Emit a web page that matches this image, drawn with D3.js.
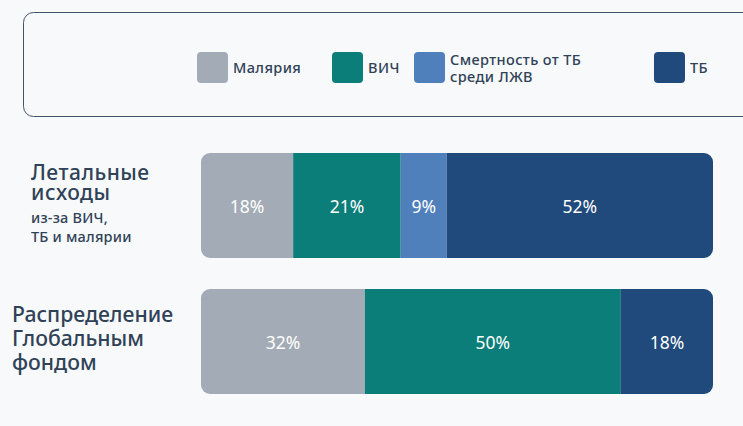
<!DOCTYPE html>
<html><head><meta charset="utf-8">
<script src="https://cdn.jsdelivr.net/npm/d3@7"></script>
<style>
html,body{margin:0;padding:0;background:#f8f9fa;}
svg{display:block;font-family:"Noto Sans",sans-serif;}
</style></head>
<body><svg id="c" width="743" height="426"></svg>
<script>
const categories = ["Малярия", "ВИЧ", "Смертность от ТБ среди ЛЖВ", "ТБ"];
const legendLines = [["Малярия"], ["ВИЧ"], ["Смертность от ТБ", "среди ЛЖВ"], ["ТБ"]];
const colors = ["#a3acb6", "#0b7e79", "#4f80bc", "#1f4a7b"];
const rowKeys = ["deaths", "allocation"];
const rowTitles = [["Летальные", "исходы"], ["Распределение", "Глобальным", "фондом"]];
const rowSubtitles = [["из-за ВИЧ,", "ТБ и малярии"], []];
const deathsValues = [18, 21, 9, 52];
const allocationValues = [32, 50, 0, 18];
const seriesByRow = [deathsValues, allocationValues];

const svg = d3.select("#c");
const W = 743, H = 426;
svg.append("rect").attr("width", W).attr("height", H).attr("fill", "#f8f9fa");

// legend box
svg.append("rect").attr("x", 23.5).attr("y", 12.5).attr("width", 760).attr("height", 104)
  .attr("rx", 10).attr("fill", "#f8f9fa").attr("stroke", "#42546a").attr("stroke-width", 1);

const legendX = [197, 332, 414, 654];
const lg = svg.append("g");
categories.forEach((c, i) => {
  const g = lg.append("g").attr("transform", `translate(${legendX[i]},52)`);
  g.append("rect").attr("width", 31).attr("height", 31).attr("rx", 4).attr("fill", colors[i]);
  const lines = legendLines[i];
  const t = g.append("text").attr("fill", "#2f4257").attr("font-size", 14.5)
    .attr("font-weight", 500).attr("letter-spacing", 0.4);
  if (lines.length === 1) {
    t.append("tspan").attr("x", 36).attr("y", 21).text(lines[0]);
  } else {
    lines.forEach((l, j) => t.append("tspan").attr("x", 36).attr("y", 13 + j * 17).text(l));
  }
});

const x = d3.scaleLinear().domain([0, 100]).range([201, 713]);
const y = d3.scaleBand().domain(rowKeys).range([153, 394]).paddingInner(0.228).paddingOuter(0);

const defs = svg.append("defs");
rowKeys.forEach((k, r) => {
  defs.append("clipPath").attr("id", "clip" + r).append("rect")
    .attr("x", x(0)).attr("y", y(k)).attr("width", x(100) - x(0)).attr("height", y.bandwidth()).attr("rx", 9);
  const vals = seriesByRow[r];
  const stacked = [];
  let acc = 0;
  vals.forEach((v, i) => { stacked.push({ i, v, x0: acc, x1: acc + v }); acc += v; });
  const g = svg.append("g").attr("clip-path", `url(#clip${r})`);
  g.selectAll("rect").data(stacked.filter(d => d.v > 0)).join("rect")
    .attr("x", d => x(d.x0)).attr("y", y(k))
    .attr("width", d => x(d.x1) - x(d.x0)).attr("height", y.bandwidth())
    .attr("fill", d => colors[d.i]);
  svg.append("g").selectAll("text").data(stacked.filter(d => d.v > 0)).join("text")
    .attr("x", d => (x(d.x0) + x(d.x1)) / 2).attr("y", y(k) + y.bandwidth() / 2 + 1)
    .attr("dy", "0.35em").attr("text-anchor", "middle").attr("fill", "#ffffff")
    .attr("font-size", 17.5).attr("font-weight", 400).text(d => d.v + "%");
});

// row titles
rowTitles[0].forEach((l, j) => svg.append("text").attr("fill", "#2f4257").attr("font-weight", 500)
  .attr("x", 31).attr("y", 180 + j * 20).attr("font-size", 21).attr("letter-spacing", 0.5).text(l));
rowSubtitles[0].forEach((l, j) => svg.append("text").attr("fill", "#2f4257").attr("font-weight", 500)
  .attr("x", 31).attr("y", 223 + j * 18.5).attr("font-size", 14.5).attr("letter-spacing", 0.2).text(l));
rowTitles[1].forEach((l, j) => svg.append("text").attr("fill", "#2f4257").attr("font-weight", 500)
  .attr("x", 12).attr("y", 322 + j * 24).attr("font-size", 21.2).text(l));
</script></body></html>
